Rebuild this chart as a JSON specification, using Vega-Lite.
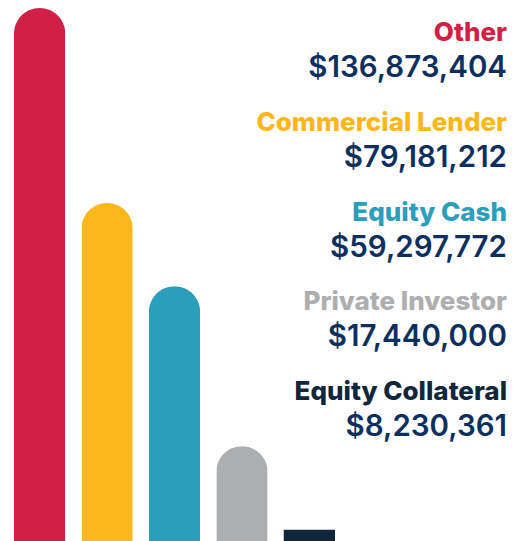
{
  "$schema": "https://vega.github.io/schema/vega-lite/v6.json",
  "width": 519,
  "height": 541,
  "autosize": {"type": "fit", "contains": "padding"},
  "padding": 0,
  "background": "white",
  "config": {"view": {"stroke": null}},
  "data": {
    "values": [
      {"name": "Other", "amount": "$136,873,404", "bar": 100},
      {"name": "Commercial Lender", "amount": "$79,181,212", "bar": 63.4},
      {"name": "Equity Cash", "amount": "$59,297,772", "bar": 47.8},
      {"name": "Private Investor", "amount": "$17,440,000", "bar": 17.8},
      {"name": "Equity Collateral", "amount": "$8,230,361", "bar": 2.1}
    ]
  },
  "resolve": {"scale": {"y": "independent"}},
  "layer": [
    {
      "transform": [{"filter": "datum.bar > 10"}],
      "mark": {"type": "bar", "cornerRadiusEnd": 26},
      "encoding": {
        "x": {
          "field": "name",
          "type": "nominal",
          "sort": null,
          "axis": null,
          "scale": {
            "domain": ["Other", "Commercial Lender", "Equity Cash", "Private Investor", "Equity Collateral"],
            "range": [14, 335], "paddingInner": 0.24, "paddingOuter": 0}
        },
        "y": {
          "field": "bar",
          "type": "quantitative",
          "axis": null,
          "scale": {"domain": [0, 101.5], "nice": false, "zero": true}
        },
        "color": {
          "field": "name",
          "type": "nominal",
          "legend": null,
          "scale": {
            "domain": ["Other", "Commercial Lender", "Equity Cash", "Private Investor", "Equity Collateral"],
            "range": ["#D21F45", "#FCB71B", "#2A9EBB", "#ADAEB0", "#10263B"]
          }
        }
      }
    },
    {
      "transform": [{"filter": "datum.bar <= 10"}],
      "mark": {"type": "bar"},
      "encoding": {
        "x": {"field": "name", "type": "nominal", "sort": null, "axis": null},
        "y": {
          "field": "bar",
          "type": "quantitative",
          "axis": null,
          "scale": {"domain": [0, 101.5], "nice": false, "zero": true}
        },
        "color": {"field": "name", "type": "nominal", "legend": null}
      }
    },
    {
      "mark": {"type": "text", "align": "right", "baseline": "alphabetic", "font": "Inter", "fontSize": 26, "fontWeight": 800, "dx": -12},
      "encoding": {
        "x": {"value": "width"},
        "y": {
          "field": "name",
          "type": "nominal",
          "sort": null,
          "axis": null,
          "scale": {"type": "point", "range": [41, 400], "padding": 0}
        },
        "text": {"field": "name"},
        "color": {"field": "name", "type": "nominal", "legend": null}
      }
    },
    {
      "mark": {"type": "text", "align": "right", "baseline": "alphabetic", "font": "Inter", "fontSize": 29.5, "fontWeight": 600, "dy": 36, "dx": -12, "color": "#0C2F5F"},
      "encoding": {
        "x": {"value": "width"},
        "y": {
          "field": "name",
          "type": "nominal",
          "sort": null,
          "axis": null,
          "scale": {"type": "point", "range": [41, 400], "padding": 0}
        },
        "text": {"field": "amount"}
      }
    }
  ]
}
